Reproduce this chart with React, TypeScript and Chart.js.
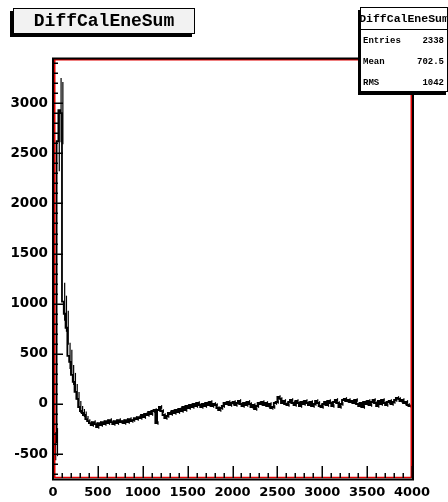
import React, { useEffect, useRef } from "react";
import { Chart, registerables } from "chart.js";

Chart.register(...registerables);

const TITLE = "DiffCalEneSum";
const STATS_LABELS = ["Entries", "Mean", "RMS"];
const STATS_VALUES = ["2338", "702.5", "1042"];

const BIN_WIDTH = 20;
const X_MIN = 0;
const X_MAX = 4000;
const Y_MIN = -738;
const Y_MAX = 3450;
const X_TICKS = [0, 500, 1000, 1500, 2000, 2500, 3000, 3500, 4000];
const Y_TICKS = [-500, 0, 500, 1000, 1500, 2000, 2500, 3000];

// bin contents, bins of 20 from 0 to 4000
const COUNTS = [
  -280, -420, -380, 2620, 2930, 2900, 1020, 900, 760, 480,
  420, 290, 220, 120, 50, -30, -70, -90, -110, -150,
  -170, -190, -210, -180, -200, -230, -190, -210, -180, -200,
  -170, -190, -160, -180, -200, -170, -190, -160, -180, -170,
  -190, -160, -180, -150, -170, -160, -140, -150, -130, -140,
  -110, -130, -100, -110, -80, -100, -70, -60, -190, -60,
  -30, -70, -110, -140, -120, -90, -100, -70, -90, -60,
  -80, -50, -70, -30, -60, -20, -40, -10, -30, 0,
  -20, 10, -10, -30, 0, -20, 10, -10, 20, -20,
  0, -10, -40, -60, -40, -20, 10, 0, 20, -10,
  10, 20, -10, 10, 30, 0, -20, 10, -10, 20,
  0, -30, -10, -50, -20, 10, 0, 20, -10, 10,
  -20, 0, -40, -30, 10, 20, 70, 50, 10, 30,
  0, -10, 20, 40, 10, -10, 30, 10, -20, 20,
  0, 30, 10, -10, 20, -20, 0, 30, 10, -20,
  -30, 0, 20, -10, 30, 10, -20, 20, 40, 10,
  -30, 0, 40, 50, 30, 40, 20, 30, 10, 40,
  0, -20, 10, -30, 20, 0, 30, -10, 20, 40,
  10, -20, 30, 0, 40, 10, -10, 20, 30, 0,
  20, 40, 60, 50, 30, 40, 10, 20, -10, -20,
];

// errors for the first bins; remaining bins use TAIL_ERROR
const HEAD_ERRORS = [
  130, 140, 140, 300, 320, 310, 190, 180, 170, 130,
  120, 100, 90, 80, 70, 60, 50, 40, 35, 30,
];
const TAIL_ERROR = 18;

export default function App() {
  const ref = useRef<HTMLCanvasElement | null>(null);

  useEffect(() => {
    const canvas = ref.current;
    if (!canvas) return;

    const points = COUNTS.map((v, i) => ({ x: X_MIN + i * BIN_WIDTH, y: v }));
    points.push({ x: X_MAX, y: COUNTS[COUNTS.length - 1] });

    const rootPlugin = {
      id: "rootStyle",
      afterDatasetsDraw(chart: any) {
        const ctx = chart.ctx;
        const xs = chart.scales.x;
        const ys = chart.scales.y;
        const a = chart.chartArea;
        ctx.save();
        // error bars
        ctx.strokeStyle = "#000";
        ctx.lineWidth = 1.2;
        COUNTS.forEach((v, i) => {
          const e = i < HEAD_ERRORS.length ? HEAD_ERRORS[i] : TAIL_ERROR;
          const xc = xs.getPixelForValue(X_MIN + i * BIN_WIDTH + BIN_WIDTH / 2);
          ctx.beginPath();
          ctx.moveTo(xc, ys.getPixelForValue(v - e));
          ctx.lineTo(xc, ys.getPixelForValue(v + e));
          ctx.stroke();
        });
        // red inner frame
        ctx.strokeStyle = "#e00000";
        ctx.lineWidth = 1.5;
        ctx.strokeRect(a.left + 1.75, a.top + 1.75, a.right - a.left - 2.5, a.bottom - a.top - 2.25);
        // ticks
        ctx.strokeStyle = "#000";
        ctx.lineWidth = 1.5;
        ctx.beginPath();
        for (let v = Math.ceil(Y_MIN / 100) * 100; v <= Y_MAX; v += 100) {
          const py = Math.round(ys.getPixelForValue(v)) + 0.25;
          const len = v % 500 === 0 ? 10 : 5;
          ctx.moveTo(a.left, py);
          ctx.lineTo(a.left + len, py);
        }
        for (let v = X_MIN; v <= X_MAX; v += 100) {
          const px = Math.round(xs.getPixelForValue(v)) + 0.25;
          const len = v % 500 === 0 ? 12 : 5;
          ctx.moveTo(px, a.bottom);
          ctx.lineTo(px, a.bottom - len);
        }
        ctx.stroke();
        // black frame
        ctx.lineWidth = 2;
        ctx.beginPath();
        ctx.moveTo(a.left - 1, a.top + 0.5);
        ctx.lineTo(a.right + 1, a.top + 0.5);
        ctx.stroke();
        ctx.beginPath();
        ctx.moveTo(a.left, a.top);
        ctx.lineTo(a.left, a.bottom + 1.5);
        ctx.lineTo(a.right + 1, a.bottom + 1.5);
        ctx.lineTo(a.right + 1, a.top);
        ctx.stroke();
        ctx.restore();
      },
    };

    const fmt = (v: any) => String(v);

    const chart = new Chart(canvas, {
      type: "line",
      data: {
        datasets: [
          {
            data: points,
            stepped: "after",
            borderColor: "#000",
            borderWidth: 1.8,
            pointRadius: 0,
            fill: false,
          },
        ],
      },
      options: {
        animation: false,
        responsive: false,
        devicePixelRatio: 1,
        layout: { padding: { left: 0, top: 58, right: 36, bottom: 0 } },
        plugins: { legend: { display: false }, tooltip: { enabled: false } },
        scales: {
          x: {
            type: "linear",
            min: X_MIN,
            max: X_MAX,
            afterFit: (s: any) => { s.height = 24; },
            afterBuildTicks: (s: any) => { s.ticks = X_TICKS.map((v) => ({ value: v })); },
            grid: { display: false, drawTicks: false },
            border: { display: false },
            ticks: {
              autoSkip: false,
              maxRotation: 0,
              padding: 7,
              color: "#000",
              callback: fmt,
              font: { family: "DejaVu Sans", weight: "bold", size: 13 },
            },
          },
          y: {
            type: "linear",
            min: Y_MIN,
            max: Y_MAX,
            afterFit: (s: any) => { s.width = 53; },
            afterBuildTicks: (s: any) => { s.ticks = Y_TICKS.map((v) => ({ value: v })); },
            grid: { display: false, drawTicks: false },
            border: { display: false },
            ticks: {
              autoSkip: false,
              padding: 5,
              color: "#000",
              callback: fmt,
              font: { family: "DejaVu Sans", weight: "bold", size: 13.5 },
            },
          },
        },
      },
      plugins: [rootPlugin],
    } as any);

    return () => chart.destroy();
  }, []);

  const mono = '"Liberation Mono", "DejaVu Sans Mono", monospace';

  return (
    <div style={{ position: "fixed", left: 0, top: 0, width: 448, height: 502, background: "#fff" }}>
      <canvas ref={ref} width={448} height={502} style={{ position: "absolute", left: 0, top: 0, width: 448, height: 502 }} />
      <div
        style={{
          position: "absolute", left: 13, top: 8, width: 180, height: 24,
          border: "1px solid #000", background: "#f2f2f2", boxShadow: "-3px 3px 0 #000",
          fontFamily: mono, fontWeight: "bold", fontSize: 18, lineHeight: "24px",
          textAlign: "center", color: "#000", whiteSpace: "nowrap",
        }}
      >
        {TITLE}
      </div>
      <div
        style={{
          position: "absolute", left: 360, top: 7, width: 86, height: 83,
          border: "1px solid #000", background: "#fff", boxShadow: "-2px 3px 0 #000",
          fontFamily: mono, fontWeight: "bold", color: "#000",
        }}
      >
        <div
          style={{
            height: 21, borderBottom: "1px solid #000", fontSize: 11.5, lineHeight: "21px",
            textAlign: "center", whiteSpace: "nowrap", overflow: "visible", display: "flex", justifyContent: "center",
          }}
        >
          <span>{TITLE}</span>
        </div>
        {STATS_LABELS.map((l, i) => (
          <div
            key={l}
            style={{
              height: 21, display: "flex", justifyContent: "space-between", alignItems: "center",
              fontSize: 9, padding: "0 3px 0 2px",
            }}
          >
            <span>{l}</span>
            <span>{STATS_VALUES[i]}</span>
          </div>
        ))}
      </div>
    </div>
  );
}
